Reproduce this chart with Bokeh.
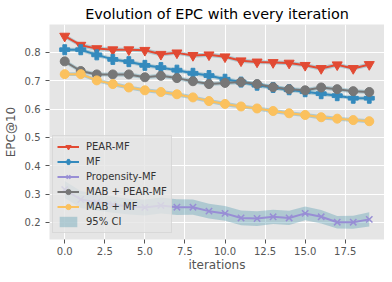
from bokeh.plotting import figure
from bokeh.models import Range1d, FixedTicker, PrintfTickFormatter, Legend, LegendItem
from bokeh.embed import file_html
from bokeh.resources import INLINE

iterations = list(range(20))

pear_mf = [0.857, 0.825, 0.813, 0.809, 0.809, 0.807, 0.793, 0.798, 0.789, 0.791,
           0.784, 0.770, 0.766, 0.764, 0.762, 0.754, 0.743, 0.756, 0.743, 0.757]
mf = [0.809, 0.809, 0.791, 0.775, 0.767, 0.754, 0.746, 0.737, 0.726, 0.718,
      0.705, 0.695, 0.684, 0.676, 0.668, 0.661, 0.654, 0.647, 0.638, 0.638]
propensity_mf = [0.316, 0.281, 0.271, 0.263, 0.256, 0.253, 0.260, 0.254, 0.254, 0.240,
                 0.232, 0.216, 0.214, 0.220, 0.216, 0.232, 0.220, 0.201, 0.201, 0.211]
mab_pear_mf = [0.768, 0.734, 0.722, 0.722, 0.722, 0.712, 0.717, 0.709, 0.698, 0.688,
               0.692, 0.695, 0.688, 0.677, 0.670, 0.666, 0.676, 0.670, 0.663, 0.660]
mab_mf = [0.723, 0.723, 0.701, 0.688, 0.676, 0.666, 0.660, 0.652, 0.641, 0.628,
          0.618, 0.609, 0.602, 0.593, 0.585, 0.579, 0.571, 0.566, 0.561, 0.557]

ci_pear_mf = [0.008, 0.007, 0.008, 0.008, 0.007, 0.008, 0.008, 0.007, 0.008, 0.008,
              0.007, 0.008, 0.007, 0.007, 0.008, 0.007, 0.008, 0.008, 0.007, 0.008]
ci_mf = [0.007, 0.007, 0.008, 0.007, 0.007, 0.008, 0.007, 0.007, 0.008, 0.007,
         0.008, 0.007, 0.008, 0.008, 0.007, 0.008, 0.008, 0.007, 0.007, 0.007]
ci_propensity_mf = [0.030, 0.030, 0.029, 0.029, 0.028, 0.028, 0.028, 0.028, 0.027, 0.026,
                    0.026, 0.026, 0.026, 0.025, 0.025, 0.024, 0.024, 0.022, 0.023, 0.025]
ci_mab_pear_mf = [0.008, 0.007, 0.007, 0.007, 0.008, 0.007, 0.008, 0.007, 0.008, 0.007,
                  0.007, 0.008, 0.007, 0.008, 0.007, 0.008, 0.007, 0.008, 0.007, 0.007]
ci_mab_mf = [0.007, 0.007, 0.007, 0.008, 0.007, 0.007, 0.007, 0.008, 0.007, 0.007,
             0.008, 0.007, 0.007, 0.008, 0.007, 0.007, 0.008, 0.007, 0.007, 0.007]

labels = ["PEAR-MF", "MF", "Propensity-MF", "MAB + PEAR-MF", "MAB + MF"]
colors = ["#E24A33", "#348ABD", "#988ED5", "#777777", "#FBC15E"]
markers = ["inverted_triangle", "plus", "x", "circle", "circle"]
marker_sizes = [10, 10, 9, 9, 9]
series = [pear_mf, mf, propensity_mf, mab_pear_mf, mab_mf]
cis = [ci_pear_mf, ci_mf, ci_propensity_mf, ci_mab_pear_mf, ci_mab_mf]

x_ticks = [0, 2.5, 5, 7.5, 10, 12.5, 15, 17.5]
y_ticks = [0.2, 0.3, 0.4, 0.5, 0.6, 0.7, 0.8]

p = figure(width=384, height=274, output_backend="svg", toolbar_location=None,
           x_range=Range1d(-0.95, 19.95), y_range=Range1d(0.14, 0.898),
           title="Evolution of EPC with every iteration",
           min_border_left=41, min_border_right=0, min_border_top=0, min_border_bottom=0)

p.background_fill_color = "#E5E5E5"
p.border_fill_color = "white"
p.outline_line_color = None
p.title.text_font = "DejaVu Sans"
p.title.text_font_size = "14.4px"
p.title.text_font_style = "normal"
p.title.text_color = "#000000"
p.title.align = "center"
p.title.offset = 0
p.title.standoff = 6

for ax in (p.xaxis[0], p.yaxis[0]):
    ax.axis_line_color = None
    ax.major_tick_line_color = "#555555"
    ax.major_tick_in = 0
    ax.major_tick_out = 4
    ax.minor_tick_line_color = None
    ax.major_label_text_font = "DejaVu Sans"
    ax.major_label_text_font_size = "10px"
    ax.major_label_text_color = "#555555"
    ax.axis_label_text_font = "DejaVu Sans"
    ax.axis_label_text_font_size = "12px"
    ax.axis_label_text_font_style = "normal"
    ax.axis_label_text_color = "#555555"

p.xaxis.ticker = FixedTicker(ticks=x_ticks)
p.xaxis.formatter = PrintfTickFormatter(format="%.1f")
p.yaxis.ticker = FixedTicker(ticks=y_ticks)
p.yaxis.formatter = PrintfTickFormatter(format="%.1f")
p.xaxis.axis_label = "iterations"
p.yaxis.axis_label = "EPC@10"
p.xaxis.axis_label_standoff = 0
p.xaxis.major_label_standoff = 3
p.yaxis.axis_label_standoff = 4

p.grid.grid_line_color = "white"
p.grid.grid_line_width = 1
p.xgrid.ticker = FixedTicker(ticks=x_ticks)
p.ygrid.ticker = FixedTicker(ticks=y_ticks)

band_renderer = None
for vals, ci in zip(series, cis):
    lo = [v - c for v, c in zip(vals, ci)]
    hi = [v + c for v, c in zip(vals, ci)]
    r = p.varea(x=iterations, y1=lo, y2=hi, fill_color="#4a96ad", fill_alpha=0.35)
    if band_renderer is None:
        band_renderer = r

items = []
for vals, col, mk, ms, lab in zip(series, colors, markers, marker_sizes, labels):
    ln = p.line(iterations, vals, line_color=col, line_width=2)
    if mk == "x":
        sc = p.scatter(iterations, vals, marker=mk, size=ms, line_color=col, line_width=1.5)
    else:
        sc = p.scatter(iterations, vals, marker=mk, size=ms, fill_color=col, line_color=col)
    items.append(LegendItem(label=lab, renderers=[ln, sc]))
items.append(LegendItem(label="95% CI", renderers=[band_renderer]))

legend = Legend(items=items, location=(3, 6), orientation="vertical",
                background_fill_color="#E5E5E5", background_fill_alpha=0.8,
                border_line_color="#CCCCCC", border_line_width=1,
                label_text_font="DejaVu Sans", label_text_font_size="10px",
                label_text_color="#333333",
                glyph_width=22, glyph_height=13, label_height=13, label_standoff=7,
                spacing=2, padding=4, margin=0)
p.add_layout(legend, "center")

open("out.html", "w").write(file_html(p, INLINE))
